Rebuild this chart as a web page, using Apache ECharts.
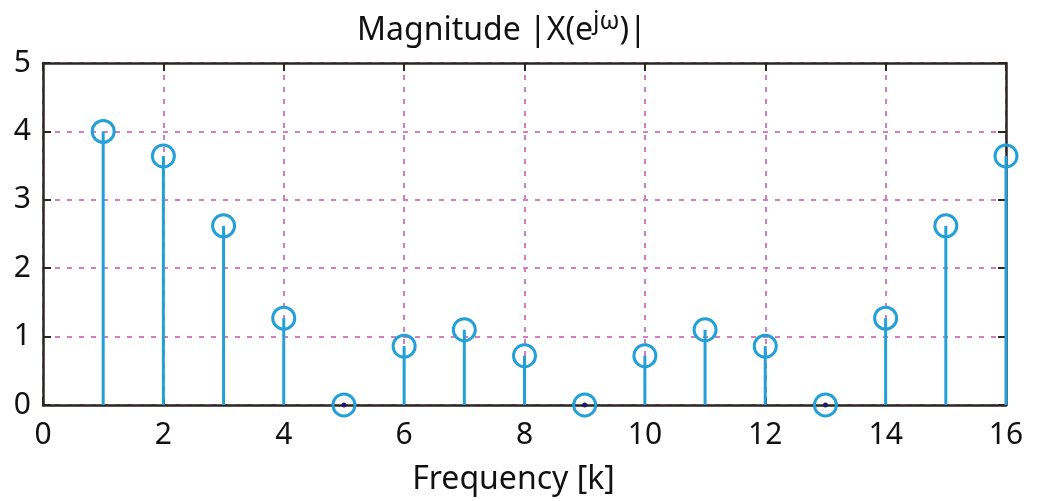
<!DOCTYPE html>
<html>
<head>
<meta charset="utf-8">
<script src="https://cdn.jsdelivr.net/npm/echarts@6/dist/echarts.min.js"></script>
<style>
html,body{margin:0;padding:0;background:#fff;}
#chart{width:1041px;height:501px;}
</style>
</head>
<body>
<div id="chart"></div>
<script>
const kValues = [1,2,3,4,5,6,7,8,9,10,11,12,13,14,15,16];
const magnitudes = [4.0,3.64,2.62,1.27,0,0.86,1.10,0.72,0,0.72,1.10,0.86,0,1.27,2.62,3.64];
const xAxisName = 'Frequency [k]';

const points = kValues.map((k,i)=>[k, magnitudes[i]]);
const stemColor = '#23a0d8';
const gridColor = '#d27fc0';
const axisColor = '#2b2622';
const font = 'Noto Sans';

const chart = echarts.init(document.getElementById('chart'));
chart.setOption({
  backgroundColor:'#fff',
  animation:false,
  title:{
    text:'Magnitude |X(e{sup|jω})|',
    left:352, top:4,
    textStyle:{
      fontFamily:font, fontSize:32, fontWeight:'normal', color:'#111',
      rich:{sup:{fontFamily:font,fontSize:25,color:'#111',verticalAlign:'top',padding:[0,0,18,0]}}
    }
  },
  grid:{left:43,right:35,top:63,bottom:96},
  xAxis:[{
    type:'value', min:0, max:16, interval:2,
    name:xAxisName, nameLocation:'middle', nameGap:59,
    nameTextStyle:{fontFamily:font,fontSize:32,color:'#111',padding:[0,22,0,0]},
    axisLine:{show:true,onZero:false,lineStyle:{color:axisColor,width:2.5}},
    axisTick:{show:true,inside:true,length:8,lineStyle:{color:axisColor,width:2}},
    axisLabel:{fontFamily:font,fontSize:30,color:'#111',margin:15},
    splitLine:{show:true,lineStyle:{color:gridColor,type:[5,7],width:2}}
  },{
    type:'value', min:0, max:16, interval:2, position:'top',
    axisLine:{show:true,onZero:false,lineStyle:{color:axisColor,width:2.5}},
    axisTick:{show:true,inside:true,length:8,lineStyle:{color:axisColor,width:2}},
    axisLabel:{show:false}, splitLine:{show:false}
  }],
  yAxis:[{
    type:'value', min:0, max:5, interval:1,
    axisLine:{show:true,onZero:false,lineStyle:{color:axisColor,width:2.5}},
    axisTick:{show:true,inside:true,length:8,lineStyle:{color:axisColor,width:2}},
    axisLabel:{fontFamily:font,fontSize:30,color:'#111',margin:12},
    splitLine:{show:true,lineStyle:{color:gridColor,type:[5,7],width:2}}
  },{
    type:'value', min:0, max:5, interval:1, position:'right',
    axisLine:{show:true,onZero:false,lineStyle:{color:axisColor,width:2.5}},
    axisTick:{show:true,inside:true,length:8,lineStyle:{color:axisColor,width:2}},
    axisLabel:{show:false}, splitLine:{show:false}
  }],
  series:[{
    type:'custom',
    data:points,
    renderItem:function(params,api){
      const x = api.value(0), y = api.value(1);
      const p0 = api.coord([x,0]);
      const p1 = api.coord([x,y]);
      return {type:'group',children:[
        {type:'line',shape:{x1:p0[0],y1:p0[1],x2:p1[0],y2:p1[1]},
          style:{stroke:stemColor,lineWidth:3}},
        {type:'circle',shape:{cx:p1[0],cy:p1[1],r:y===0?2.5:0},
          style:{fill:'#1a1a6a'}}
      ]};
    },
    z:3
  },{
    type:'scatter',
    data:points,
    symbol:'circle',
    symbolSize:22,
    itemStyle:{color:'rgba(0,0,0,0)',borderColor:stemColor,borderWidth:3,opacity:1},
    z:4
  }]
});
</script>
</body>
</html>
